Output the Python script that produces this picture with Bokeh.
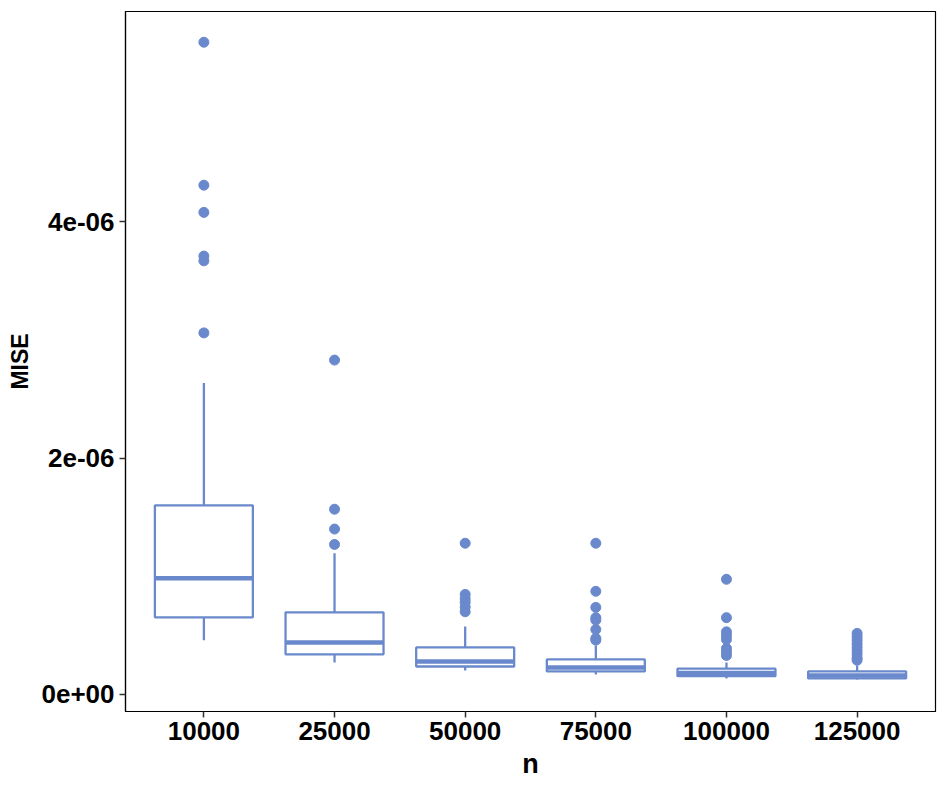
from bokeh.plotting import figure
from bokeh.models import FixedTicker, Range1d
from bokeh.embed import file_html
from bokeh.resources import INLINE

categories = ["10000", "25000", "50000", "75000", "100000", "125000"]
lower_whisker = [0.458e-6, 0.27e-6, 0.203e-6, 0.17e-6, 0.135e-6, 0.127e-6]
q1 = [0.653e-6, 0.34e-6, 0.237e-6, 0.195e-6, 0.155e-6, 0.136e-6]
median = [0.983e-6, 0.44e-6, 0.28e-6, 0.229e-6, 0.182e-6, 0.161e-6]
q3 = [1.60e-6, 0.695e-6, 0.398e-6, 0.297e-6, 0.218e-6, 0.195e-6]
upper_whisker = [2.636e-6, 1.195e-6, 0.576e-6, 0.415e-6, 0.27e-6, 0.246e-6]

outliers_10000 = [5.52e-6, 4.31e-6, 4.08e-6, 3.71e-6, 3.67e-6, 3.06e-6]
outliers_25000 = [2.83e-6, 1.568e-6, 1.40e-6, 1.27e-6]
outliers_50000 = [1.28e-6, 0.847e-6, 0.81e-6, 0.78e-6, 0.74e-6, 0.70e-6]
outliers_75000 = [1.28e-6, 0.873e-6, 0.737e-6, 0.65e-6, 0.63e-6, 0.55e-6, 0.475e-6, 0.46e-6]
outliers_100000 = [0.975e-6, 0.65e-6, 0.53e-6, 0.50e-6, 0.466e-6, 0.39e-6, 0.36e-6, 0.33e-6]
outliers_125000 = [0.517e-6, 0.49e-6, 0.46e-6, 0.43e-6, 0.40e-6, 0.37e-6, 0.34e-6, 0.31e-6, 0.29e-6]

y_ticks = [0, 2e-6, 4e-6]
y_tick_labels = ["0e+00", "2e-06", "4e-06"]

COLOR = "#6A89CC"
FONT = "Liberation Sans"

xpos = list(range(1, len(categories) + 1))

p = figure(x_range=Range1d(0.4, len(categories) + 0.6),
           y_range=Range1d(-0.144e-6, 5.78e-6),
           width=938, height=781, output_backend="svg", toolbar_location=None,
           min_border_left=125, min_border_right=3, min_border_top=11, min_border_bottom=67)
p.xgrid.visible = False
p.ygrid.visible = False
p.outline_line_color = "black"
p.outline_line_width = 1.2
p.background_fill_color = "white"
p.border_fill_color = "white"

# whiskers
p.segment(x0=xpos, y0=q3, x1=xpos, y1=upper_whisker, line_color=COLOR, line_width=2.3)
p.segment(x0=xpos, y0=lower_whisker, x1=xpos, y1=q1, line_color=COLOR, line_width=2.3)
# boxes
p.vbar(x=xpos, top=q3, bottom=q1, width=0.75, fill_color="white", line_color=COLOR, line_width=2.3)
# medians
p.segment(x0=[x - 0.375 for x in xpos], y0=median, x1=[x + 0.375 for x in xpos], y1=median,
          line_color=COLOR, line_width=4.5)

all_out = [outliers_10000, outliers_25000, outliers_50000, outliers_75000, outliers_100000, outliers_125000]
ox, oy = [], []
for xv, vals in zip(xpos, all_out):
    ox += [xv] * len(vals)
    oy += vals
p.scatter(x=ox, y=oy, size=10, fill_color=COLOR, line_color=COLOR)

p.xaxis.ticker = FixedTicker(ticks=xpos)
p.xaxis.major_label_overrides = {x: c for x, c in zip(xpos, categories)}
p.xaxis.minor_tick_line_color = None
p.yaxis.ticker = FixedTicker(ticks=y_ticks)
p.yaxis.major_label_overrides = {t: l for t, l in zip(y_ticks, y_tick_labels)}
p.yaxis.minor_tick_line_color = None

for ax in (p.xaxis[0], p.yaxis[0]):
    ax.axis_line_color = "black"
    ax.axis_line_width = 1.2
    ax.major_tick_line_color = "#333333"
    ax.major_tick_line_width = 1.5
    ax.major_tick_out = 6
    ax.major_tick_in = 0
    ax.major_label_text_font = FONT
    ax.major_label_text_font_style = "bold"
    ax.major_label_text_font_size = "26px"
    ax.major_label_text_color = "black"
    ax.axis_label_text_font = FONT
    ax.axis_label_text_font_style = "bold"
    ax.axis_label_text_font_size = "27px"
    ax.axis_label_text_color = "black"

p.yaxis.axis_label_text_font_size = "23px"
p.xaxis.axis_label = "n"
p.yaxis.axis_label = "MISE"
p.xaxis.major_label_standoff = 4
p.yaxis.major_label_standoff = 5
p.xaxis.axis_label_standoff = 6
p.yaxis.axis_label_standoff = 5

open("out.html", "w").write(file_html(p, INLINE))
